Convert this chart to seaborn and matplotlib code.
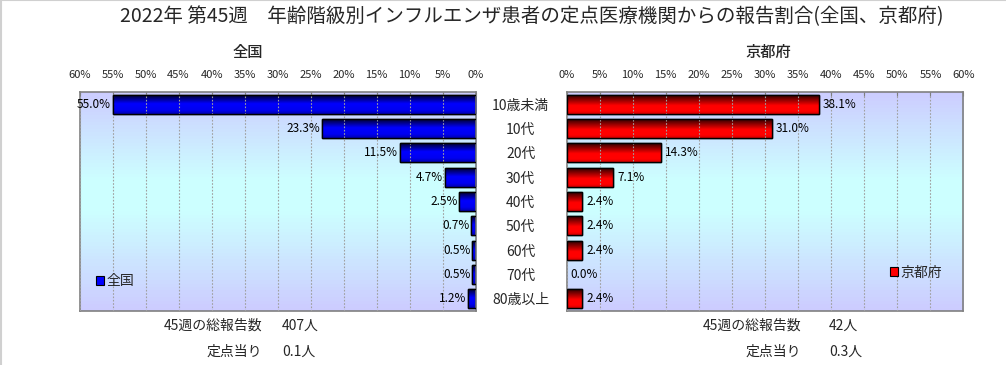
import numpy as np
import pandas as pd
import matplotlib
matplotlib.use("Agg")
import matplotlib.pyplot as plt
import seaborn as sns
from matplotlib.patches import Rectangle, Patch
from matplotlib.colors import LinearSegmentedColormap

# ---------------- data ----------------
ages = ["10歳未満", "10代", "20代", "30代", "40代", "50代", "60代", "70代", "80歳以上"]
national = [55.0, 23.3, 11.5, 4.7, 2.5, 0.7, 0.5, 0.5, 1.2]
kyoto = [38.1, 31.0, 14.3, 7.1, 2.4, 2.4, 2.4, 0.0, 2.4]
ticks = [0, 5, 10, 15, 20, 25, 30, 35, 40, 45, 50, 55, 60]
title = "2022年 第45週　年齢階級別インフルエンザ患者の定点医療機関からの報告割合(全国、京都府)"
total_label = "45週の総報告数"
per_label = "定点当り"
national_total = "407人"
national_per = "0.1人"
kyoto_total = "42人"
kyoto_per = "0.3人"

sns.set_style("white")
plt.rcParams["font.family"] = ["Noto Sans CJK JP", "DejaVu Sans"]

W, H = 1006, 365
fig = plt.figure(figsize=(W / 100, H / 100), dpi=100)
fig.patch.set_facecolor("white")

def fx(px):
    return px / W

def fy(py):
    return 1 - py / H

top_px, bot_px = 92, 311
ax1 = fig.add_axes([fx(79.5), fy(bot_px), fx(475.7 - 79.5), (bot_px - top_px) / H])
ax2 = fig.add_axes([fx(566.5), fy(bot_px), fx(963.5 - 566.5), (bot_px - top_px) / H])

df1 = pd.DataFrame({"age": ages, "value": national})
df2 = pd.DataFrame({"age": ages, "value": kyoto})

bg_cmap = LinearSegmentedColormap.from_list(
    "bg", [(0.0, "#ccccff"), (0.45, "#ccffff"), (0.6, "#ccffff"), (1.0, "#ccccff")])
blue_cmap = LinearSegmentedColormap.from_list(
    "bl", [(0.0, "#000030"), (0.45, "#0000ff"), (0.8, "#0000f0"), (1.0, "#0000b0")])
red_cmap = LinearSegmentedColormap.from_list(
    "rd", [(0.0, "#300000"), (0.55, "#ff0000"), (0.85, "#ff0000"), (1.0, "#d00000")])

grad = np.linspace(0, 1, 64).reshape(-1, 1)

def style_axes(ax, df, color, cmap, inverted, legend_label, legend_loc):
    sns.barplot(data=df, x="value", y="age", orient="h", color=color, ax=ax,
                width=0.78, edgecolor="black", linewidth=1, saturation=1, zorder=2)
    if inverted:
        ax.set_xlim(60, 0)
    else:
        ax.set_xlim(0, 60)
    ylim = ax.get_ylim()
    xlim = ax.get_xlim()
    # background gradient
    ax.imshow(grad, extent=[xlim[0], xlim[1], ylim[0], ylim[1]], aspect="auto",
              cmap=bg_cmap, zorder=0, origin="upper" if ylim[0] < ylim[1] else "lower")
    # bar gradients
    for p in list(ax.patches):
        x0, y0, w, h = p.get_x(), p.get_y(), p.get_width(), p.get_height()
        if w <= 0:
            p.set_visible(False)
            continue
        im = ax.imshow(grad, extent=[x0, x0 + w, y0 + h, y0], aspect="auto",
                       cmap=cmap, zorder=2.5, origin="upper")
        im.set_clip_path(p)
        ax.add_patch(Rectangle((x0, y0), w, h, fill=False, ec="black", lw=1, zorder=3))
    ax.set_xlim(xlim)
    ax.set_ylim(ylim)
    # value labels
    for i, v in enumerate(df["value"]):
        if inverted:
            ax.annotate(f"{v:.1f}%", xy=(v, i), xytext=(-1, 0), textcoords="offset points",
                        ha="right", va="center", fontsize=8.5, color="black", zorder=4)
        else:
            ax.annotate(f"{v:.1f}%", xy=(v, i), xytext=(3, 0), textcoords="offset points",
                        ha="left", va="center", fontsize=8.5, color="black", zorder=4)
    ax.set_xticks(ticks)
    ax.set_xticklabels([f"{t}%" for t in ticks], fontsize=8)
    ax.xaxis.tick_top()
    ax.tick_params(axis="x", direction="in", length=3, color="#808080", pad=9)
    ax.grid(axis="x", ls=(0, (1.5, 1.5)), color="#a0a0a0", lw=0.8, zorder=1)
    ax.set_axisbelow(False)
    for s in ax.spines.values():
        s.set_color("#808080")
        s.set_linewidth(1.2)
        s.set_visible(True)
    ax.set_xlabel("")
    ax.set_ylabel("")
    ax.legend(handles=[Patch(facecolor=color, edgecolor="black", lw=0.8)],
              labels=[legend_label], loc="center", bbox_to_anchor=legend_loc,
              frameon=False, handlelength=0.6, handleheight=0.6,
              handletextpad=0.15, fontsize=10, borderaxespad=0)

style_axes(ax1, df1, "#0000ff", blue_cmap, True, "全国", (0.09, 0.135))
style_axes(ax2, df2, "#ff0000", red_cmap, False, "京都府", (0.88, 0.175))

ax1.set_yticks([])
ax2.set_yticks(range(len(ages)))
ax2.set_yticklabels(ages, fontsize=10, ha="center")
ax2.tick_params(axis="y", length=0, pad=33)

# titles and texts
fig.text(fx(532), fy(17), title, ha="center", va="center", fontsize=14)
fig.text(fx(248), fy(52), "全国", ha="center", va="center", fontsize=11, fontweight="medium")
fig.text(fx(768), fy(52), "京都府", ha="center", va="center", fontsize=11, fontweight="medium")

for xr, xl, tot, per in [(262, 282, national_total, national_per),
                         (801, 829, kyoto_total, kyoto_per)]:
    fig.text(fx(xr), fy(326), total_label, ha="right", va="center", fontsize=10)
    fig.text(fx(xl), fy(326), tot, ha="left", va="center", fontsize=10)
    fig.text(fx(xr), fy(352), per_label, ha="right", va="center", fontsize=10)
    fig.text(fx(xl), fy(352), per, ha="left", va="center", fontsize=10)

# thin light border on left/top like the original frame
fig.add_artist(plt.Line2D([0.001, 0.001], [0, 1], color="#d0d0d0", lw=1.5, transform=fig.transFigure))
fig.add_artist(plt.Line2D([0, 1], [0.999, 0.999], color="#d0d0d0", lw=1.5, transform=fig.transFigure))

fig.savefig("out.png", dpi=100)
